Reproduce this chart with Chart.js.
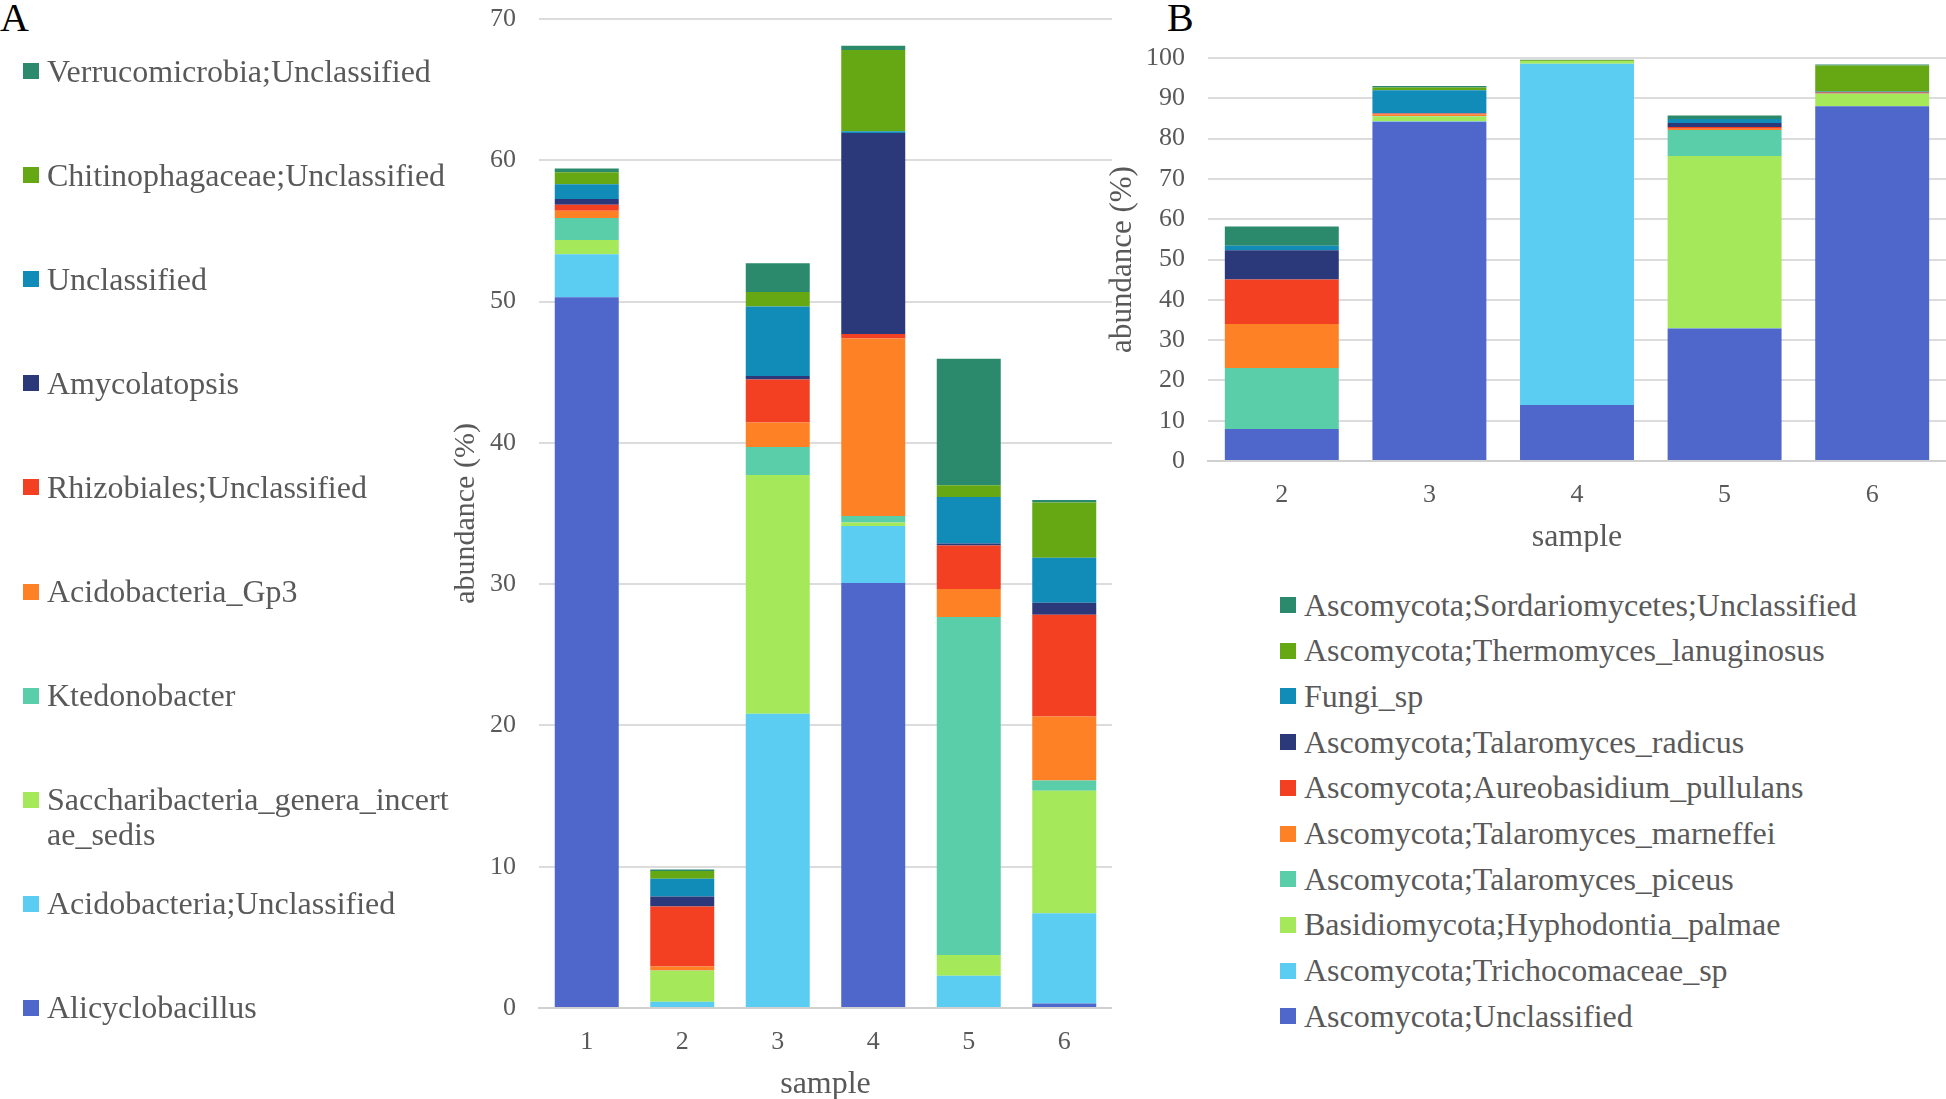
<!DOCTYPE html>
<html>
<head>
<meta charset="utf-8">
<script src="https://cdn.jsdelivr.net/npm/chart.js@4.4.1/dist/chart.umd.min.js"></script>
<style>
  html, body { margin: 0; padding: 0; background: #ffffff; }
  body { width: 1946px; height: 1099px; position: relative; overflow: hidden;
    font-family: 'Liberation Serif', 'Times New Roman', serif; color: #595959; }
  canvas { position: absolute; }
  #chartA { left: 440px; top: 0; }
  #chartB { left: 1100px; top: 0; }
  .panel-tag { position: absolute; font-size: 40px; color: #000; line-height: 1; }
  .leg-item { position: absolute; }
  .leg-box { position: absolute; left: 0; width: 16px; height: 16px; }
  .leg-text { position: absolute; left: 24px; white-space: normal; word-break: break-all; }
</style>
</head>
<body>
<div class="panel-tag" style="left:0;top:-2px;">A</div>
<div class="panel-tag" style="left:1167px;top:-2px;">B</div>
<canvas id="chartA" width="672" height="1099"></canvas>
<canvas id="chartB" width="846" height="552"></canvas>
<div id="legendA"></div>
<div id="legendB"></div>
<script>
  'use strict';

  // ---- panel A: bacteria, samples 1-6 (stack order, bottom first) ----
  var samplesA = ['1', '2', '3', '4', '5', '6'];
  var alicyclobacillus = [50.31, 0, 0, 30.08, 0, 0.31];
  var acidobacteriaUncl = [3.04, 0.45, 20.83, 4.04, 2.29, 6.40];
  var saccharibacteria = [1.01, 2.18, 16.90, 0.25, 1.46, 8.67];
  var ktedonobacter = [1.56, 0.03, 1.97, 0.45, 23.93, 0.72];
  var acidobacteriaGp3 = [0.51, 0.28, 1.74, 12.56, 1.98, 4.53];
  var rhizobiales = [0.43, 4.25, 3.04, 0.33, 3.08, 7.21];
  var amycolatopsis = [0.40, 0.70, 0.25, 14.23, 0.14, 0.84];
  var unclassifiedA = [1.04, 1.25, 4.93, 0.12, 3.29, 3.19];
  var chitinophagaceae = [0.86, 0.56, 1.01, 5.74, 0.83, 3.91];
  var verrucomicrobia = [0.25, 0.11, 2.04, 0.30, 8.95, 0.17];

  var labelsA = ['Alicyclobacillus', 'Acidobacteria;Unclassified', 'Saccharibacteria_genera_incertae_sedis',
    'Ktedonobacter', 'Acidobacteria_Gp3', 'Rhizobiales;Unclassified', 'Amycolatopsis',
    'Unclassified', 'Chitinophagaceae;Unclassified', 'Verrucomicrobia;Unclassified'];
  var seriesA = [alicyclobacillus, acidobacteriaUncl, saccharibacteria, ktedonobacter, acidobacteriaGp3,
    rhizobiales, amycolatopsis, unclassifiedA, chitinophagaceae, verrucomicrobia];

  // ---- panel B: fungi, samples 2-6 ----
  var samplesB = ['2', '3', '4', '5', '6'];
  var ascoUncl = [7.93, 84.2, 13.88, 32.89, 88.02];
  var trichocomaceae = [0, 0.1, 84.7, 0.05, 0];
  var hyphodontia = [0, 1.2, 0.66, 42.73, 3.1];
  var tPiceus = [15.13, 0.1, 0, 6.45, 0.05];
  var tMarneffei = [10.91, 0.4, 0, 0.33, 0.05];
  var aureobasidium = [11.07, 0.2, 0, 0.41, 0.2];
  var tRadicus = [7.27, 0.1, 0, 0.99, 0.15];
  var fungiSp = [1.08, 5.7, 0, 0.99, 0.1];
  var thermomyces = [0, 0.7, 0.2, 0.05, 6.45];
  var sordariomycetes = [4.79, 0.33, 0.15, 0.83, 0.25];

  var labelsB = ['Ascomycota;Unclassified', 'Ascomycota;Trichocomaceae_sp', 'Basidiomycota;Hyphodontia_palmae',
    'Ascomycota;Talaromyces_piceus', 'Ascomycota;Talaromyces_marneffei', 'Ascomycota;Aureobasidium_pullulans',
    'Ascomycota;Talaromyces_radicus', 'Fungi_sp', 'Ascomycota;Thermomyces_lanuginosus',
    'Ascomycota;Sordariomycetes;Unclassified'];
  var seriesB = [ascoUncl, trichocomaceae, hyphodontia, tPiceus, tMarneffei, aureobasidium,
    tRadicus, fungiSp, thermomyces, sordariomycetes];

  var yTicksA = [0, 10, 20, 30, 40, 50, 60, 70];
  var yTicksB = [0, 10, 20, 30, 40, 50, 60, 70, 80, 90, 100];

  // shared palette, same order as the stacks
  var palette = ['#4f67cb', '#5bcdf3', '#a5e85a', '#5acda9', '#fe8225', '#f33f22',
    '#2b397b', '#118bb8', '#65a814', '#2b8a6c'];

  var FONT = "'Liberation Serif', 'Times New Roman', serif";
  var TEXT = '#595959';

  function makeDatasets(labels, series) {
    return series.map(function (vals, i) {
      return { label: labels[i], data: vals, backgroundColor: palette[i], borderWidth: 0 };
    });
  }

  function buildChart(id, cats, labels, series, ticks, opts) {
    var ctx = document.getElementById(id).getContext('2d');
    return new Chart(ctx, {
      type: 'bar',
      data: { labels: cats, datasets: makeDatasets(labels, series) },
      options: {
        responsive: false, animation: false,
        layout: { padding: { top: opts.top, right: 0, bottom: 0, left: 0 } },
        plugins: { legend: { display: false }, tooltip: { enabled: false } },
        datasets: { bar: { barPercentage: opts.bar, categoryPercentage: 1 } },
        scales: {
          x: {
            stacked: true,
            grid: { display: false },
            border: { display: true, color: '#d0d0d0', width: 2 },
            ticks: { color: TEXT, font: { family: FONT, size: 26 }, padding: 11 },
            title: { display: true, text: 'sample', color: TEXT,
              font: { family: FONT, size: 32, lineHeight: 0.9 }, padding: { top: 0, bottom: 0 } },
            afterFit: function (s) { s.height = 91; s.paddingLeft = 0; s.paddingRight = 0; }
          },
          y: {
            stacked: true, min: 0, max: ticks[ticks.length - 1],
            afterBuildTicks: function (s) { s.ticks = ticks.map(function (v) { return { value: v }; }); },
            grid: { color: '#dcdcdc', lineWidth: 2, drawTicks: false },
            border: { display: false },
            ticks: { color: TEXT, font: { family: FONT, size: 26 }, padding: 23 },
            title: { display: true, text: 'abundance (%)', color: TEXT,
              font: { family: FONT, size: opts.titleSize, lineHeight: 1 }, padding: { top: opts.titlePad, bottom: 0 } },
            afterFit: function (s) { s.width = opts.axisW; s.paddingTop = 0; s.paddingBottom = 0; }
          }
        }
      }
    });
  }

  buildChart('chartA', samplesA, labelsA, seriesA, yTicksA,
    { top: 19, bar: 0.67, axisW: 99, titleSize: 30, titlePad: 11 });
  buildChart('chartB', samplesB, labelsB, seriesB, yTicksB,
    { top: 58, bar: 0.772, axisW: 108, titleSize: 31, titlePad: 7 });

  // legends: listed top to bottom in reverse stack order
  function buildLegend(elId, labels, left, firstY, step, fontSize, lineH, textW) {
    var el = document.getElementById(elId);
    var html = '';
    for (var k = 0; k < labels.length; k++) {
      var i = labels.length - 1 - k;
      var cy = firstY + k * step;
      html += '<div class="leg-item" style="left:' + left + 'px;top:' + (cy - lineH / 2) + 'px;">';
      html += '<div class="leg-box" style="top:' + (lineH / 2 - 8) + 'px;background:' + palette[i] + ';"></div>';
      html += '<div class="leg-text" style="width:' + textW + 'px;font-size:' +
        fontSize + 'px;line-height:' + lineH + 'px;">' + labels[i] + '</div>';
      html += '</div>';
    }
    el.innerHTML = html;
  }

  buildLegend('legendA', labelsA, 23, 71, 104.1, 32, 35, 408);
  buildLegend('legendB', labelsB, 1280, 605, 45.7, 32, 35, 640);
</script>
</body>
</html>
